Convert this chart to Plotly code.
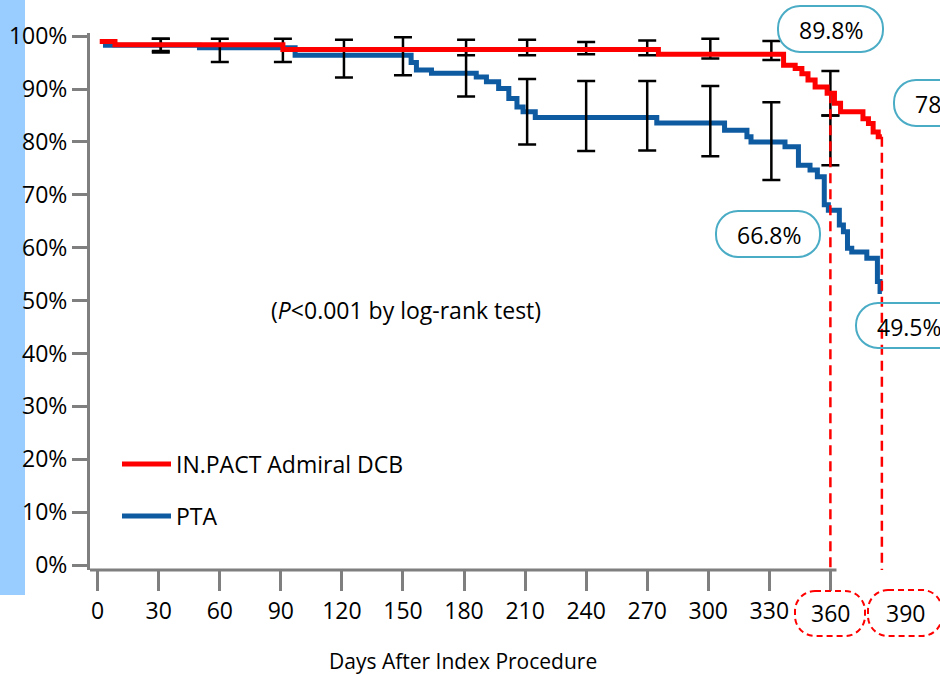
import plotly.graph_objects as go

# ---------------- data ----------------
red_name = "IN.PACT Admiral DCB"
blue_name = "PTA"

red_days = [1, 8.5, 91, 275.5, 337, 342.7, 346, 349, 352.5, 358.4, 362, 365, 376, 378.7, 381, 383.5, 385.3]
red_surv = [99.0, 98.4, 97.5, 96.6, 94.5, 93.9, 92.9, 91.7, 90.4, 89.2, 87.3, 85.7, 84.4, 83.5, 81.9, 81.0, 81.0]

blue_days = [2.6, 50, 97, 154, 156.6, 164, 186, 191, 197, 202, 206, 209, 215, 274.7, 308, 319, 321,
             337.7, 344.3, 350, 353.6, 357, 359, 364.4, 366.4, 368.4, 370.5, 377.9, 383.1, 384.4, 385.3]
blue_surv = [98.3, 97.8, 96.4, 95.0, 93.6, 93.0, 92.3, 91.4, 90.1, 88.2, 86.6, 85.7, 84.6, 83.6, 82.2, 81.0, 80.0,
             79.1, 75.6, 74.7, 73.4, 68.1, 67.1, 64.3, 63.0, 59.9, 59.2, 58.0, 53.6, 51.7, 51.7]

red_ci_days = [31, 181, 211, 240, 270, 301, 331, 360]
red_ci_lo = [97.2, 96.4, 96.4, 96.6, 96.4, 95.8, 95.5, 85.0]
red_ci_hi = [99.5, 99.3, 99.3, 98.9, 99.2, 99.5, 99.1, 93.4]

blue_ci_days = [31, 60, 91, 121, 150, 181, 211, 240, 270, 301, 331, 360]
blue_ci_lo = [96.9, 95.1, 95.1, 92.2, 92.6, 88.6, 79.5, 78.3, 78.4, 77.3, 72.8, 75.6]
blue_ci_hi = [99.5, 99.5, 99.5, 99.3, 99.8, 97.4, 91.9, 91.5, 91.5, 90.6, 87.5, 85.0]

x_ticks = [0, 30, 60, 90, 120, 150, 180, 210, 240, 270, 300, 330, 360]
y_ticks = [0, 10, 20, 30, 40, 50, 60, 70, 80, 90, 100]

landmark_days = [360, 385.3]
landmark_labels = ["360", "390"]
callouts = ["89.8%", "78.4%", "66.8%", "49.5%"]
pvalue_text = "(<i>P</i>&lt;0.001 by log-rank test)"
x_title = "Days After Index Procedure"

# ---------------- style / layout ----------------
W, H = 940, 675
L, R, T, B = 90, 935, 33, 570
X_RANGE = [-3.78, 411.4]
Y_RANGE = [-0.945, 100.6]
RED = "#FF0000"
BLUE = "#0E5BA2"
AXIS = "#7F7F7F"
TEAL = "#4BACC6"
FONT = "Open Sans"
FS = 23


def px2x(px):
    return (px - L) / (R - L)


def py2y(py):
    return (B - py) / (B - T)


def step_value(days, vals, d):
    v = vals[0]
    for dd, vv in zip(days, vals):
        if dd <= d:
            v = vv
    return v


def rounded_rect(x0, y0, x1, y1, r):
    k = 0.5523 * r
    pts = [
        ("M", [(x0 + r, y0)]),
        ("L", [(x1 - r, y0)]),
        ("C", [(x1 - r + k, y0), (x1, y0 + r - k), (x1, y0 + r)]),
        ("L", [(x1, y1 - r)]),
        ("C", [(x1, y1 - r + k), (x1 - r + k, y1), (x1 - r, y1)]),
        ("L", [(x0 + r, y1)]),
        ("C", [(x0 + r - k, y1), (x0, y1 - r + k), (x0, y1 - r)]),
        ("L", [(x0, y0 + r)]),
        ("C", [(x0, y0 + r - k), (x0 + r - k, y0), (x0 + r, y0)]),
    ]
    s = ""
    for cmd, ps in pts:
        s += cmd + " " + " ".join(f"{px2x(a):.5f},{py2y(b):.5f}" for a, b in ps) + " "
    return s + "Z"


fig = go.Figure()

# PTA curve
fig.add_trace(go.Scatter(x=blue_days, y=blue_surv, mode="lines", line=dict(color=BLUE, width=5, shape="hv"),
                         name=blue_name, legend="legend2", hoverinfo="skip"))

# error bars
for d, lo, hi in [(blue_ci_days, blue_ci_lo, blue_ci_hi), (red_ci_days, red_ci_lo, red_ci_hi)]:
    fig.add_trace(go.Scatter(
        x=d, y=[(a + b) / 2 for a, b in zip(lo, hi)], mode="markers",
        marker=dict(size=1, opacity=0),
        error_y=dict(type="data", symmetric=True, array=[(b - a) / 2 for a, b in zip(lo, hi)],
                     color="black", thickness=2.5, width=9),
        showlegend=False, hoverinfo="skip"))

# IN.PACT curve
fig.add_trace(go.Scatter(x=red_days, y=red_surv, mode="lines", line=dict(color=RED, width=5, shape="hv"),
                         name=red_name, legend="legend", hoverinfo="skip"))

# dashed landmark lines
for d in landmark_days:
    fig.add_trace(go.Scatter(x=[d, d], y=[step_value(red_days, red_surv, d), Y_RANGE[0]], mode="lines",
                             line=dict(color=RED, width=2.5, dash="10px,6px"), showlegend=False, hoverinfo="skip"))

shapes = []
# light blue strip on the left
shapes.append(dict(type="rect", xref="paper", yref="paper", x0=px2x(-5), x1=px2x(25), y0=py2y(595), y1=py2y(-5),
                   fillcolor="#99CCFF", line=dict(width=0), layer="below"))
# x axis line
shapes.append(dict(type="line", xref="x", yref="paper", x0=X_RANGE[0], x1=363, y0=0, y1=0,
                   line=dict(color=AXIS, width=3)))
# callout pills
pills = [(778, 6, 883, 52), (894, 80, 999, 126), (716, 211, 820, 257), (856, 303, 961, 348)]
for (x0, y0, x1, y1) in pills:
    shapes.append(dict(type="path", xref="paper", yref="paper", path=rounded_rect(x0, y0, x1, y1, 22),
                       line=dict(color=TEAL, width=2), fillcolor="rgba(0,0,0,0)"))
# dashed boxes round the landmark labels
for (x0, y0, x1, y1) in [(795, 591, 865, 636), (868, 590, 942, 636)]:
    shapes.append(dict(type="path", xref="paper", yref="paper", path=rounded_rect(x0, y0, x1, y1, 20),
                       line=dict(color=RED, width=2, dash="6px,4px"), fillcolor="rgba(0,0,0,0)"))

annotations = []
for txt, (x0, y0, x1, y1) in zip(callouts, pills):
    annotations.append(dict(text=txt, xref="paper", yref="paper", x=px2x((x0 + x1) / 2 + 1), y=py2y((y0 + y1) / 2 + 1),
                            showarrow=False, font=dict(family=FONT, size=FS, color="black"),
                            xanchor="center", yanchor="middle"))
for lab, cx in zip(landmark_labels, [830, 905]):
    annotations.append(dict(text=lab, xref="paper", yref="paper", x=px2x(cx), y=py2y(613), showarrow=False,
                            font=dict(family=FONT, size=FS, color="black"), xanchor="center", yanchor="middle"))
annotations.append(dict(text=pvalue_text, xref="x", yref="y", x=151.5, y=48.2, showarrow=False,
                        font=dict(family=FONT, size=FS, color="black"), xanchor="center", yanchor="middle"))
annotations.append(dict(text=x_title, xref="paper", yref="paper", x=px2x(463), y=py2y(661), showarrow=False,
                        font=dict(family=FONT, size=21, color="black"), xanchor="center", yanchor="middle"))

legend_common = dict(xanchor="left", yanchor="middle", bgcolor="rgba(0,0,0,0)", borderwidth=0,
                     font=dict(family=FONT, size=FS, color="black"), itemwidth=49)

fig.update_layout(
    width=W, height=H, autosize=False,
    margin=dict(l=L, r=W - R, t=T, b=H - B, pad=0),
    paper_bgcolor="white", plot_bgcolor="white",
    font=dict(family=FONT, size=FS, color="black"),
    xaxis=dict(range=X_RANGE, showgrid=False, zeroline=False, showline=False,
               tickmode="array", tickvals=x_ticks, ticktext=[str(v) if v != 360 else "" for v in x_ticks],
               ticks="outside", ticklen=20, tickwidth=2.5, tickcolor=AXIS,
               tickfont=dict(family=FONT, size=FS, color="black")),
    yaxis=dict(range=Y_RANGE, showgrid=False, zeroline=False, showline=True, linecolor=AXIS, linewidth=3,
               tickmode="array", tickvals=y_ticks, ticktext=[f"{v}%" for v in y_ticks],
               ticks="outside", ticklen=15, tickwidth=2.5, tickcolor=AXIS, ticklabelstandoff=0,
               tickfont=dict(family=FONT, size=FS, color="black")),
    legend=dict(x=px2x(117), y=py2y(464), **legend_common),
    legend2=dict(x=px2x(117), y=py2y(516), **legend_common),
    shapes=shapes, annotations=annotations,
    showlegend=True,
)

fig.write_html("out.html", config={"displayModeBar": False},
               post_script="document.body.style.margin='0px';document.body.style.overflow='hidden';")
